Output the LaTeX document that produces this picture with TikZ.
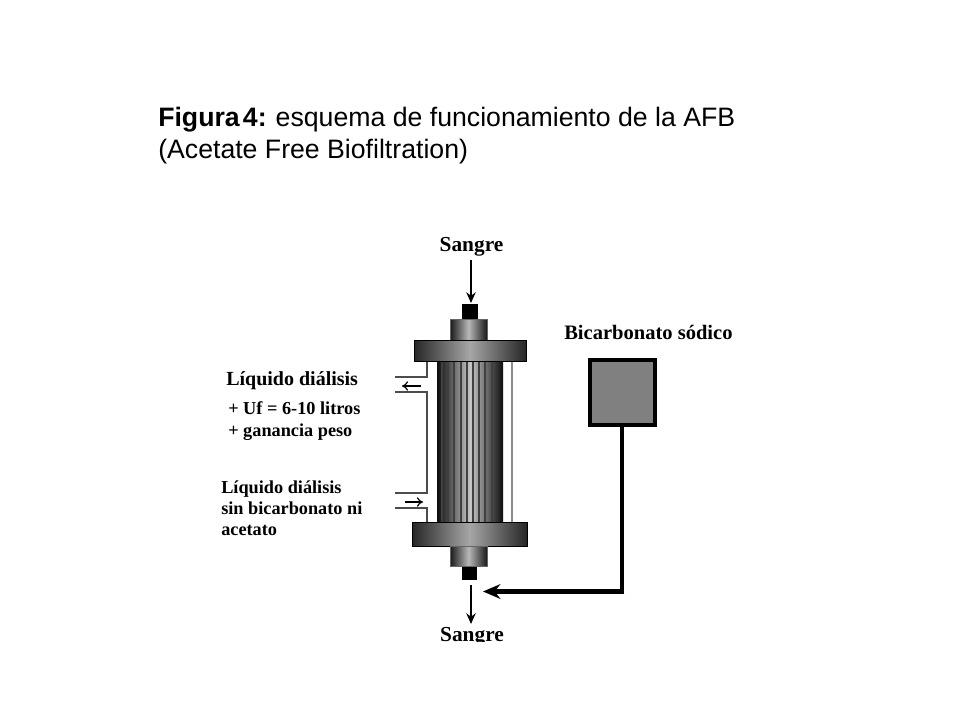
\documentclass[tikz,border=0pt]{standalone}
\usepackage{fontspec}
\setmainfont{Liberation Serif}
\newfontfamily\titlefont{Liberation Sans}
\usetikzlibrary{arrows.meta}
\tikzset{
  x=0.75pt,y=-0.75pt,
  titletext/.style={font=\titlefont\fontsize{20}{20}\selectfont,anchor=west,inner sep=0,text=black},
  sangretext/.style={font=\fontsize{16}{16}\selectfont\bfseries,inner sep=0},
  bictext/.style={font=\fontsize{15.4}{15.4}\selectfont\bfseries,inner sep=0,anchor=west},
  label/.style={font=\fontsize{15}{15}\selectfont\bfseries,inner sep=0,anchor=west},
  labelb/.style={font=\fontsize{13.7}{13.7}\selectfont\bfseries,inner sep=0,anchor=west},
  flange/.style={left color=black!85,right color=black!85,middle color=black!35,draw=black,line width=0.7pt},
  neck/.style={left color=black!90,right color=black!90,middle color=black!28,draw=black!60,line width=0.4pt},
  plug/.style={fill=black,draw=none},
  shell/.style={draw=black!70,line width=1pt},
  shellr/.style={draw=black!45,line width=1.5pt},
  flow/.style={-{Stealth[length=8pt,width=7pt]},line width=1.5pt},
  small/.style={-{To[length=4.5pt,width=7pt]},line width=0.9pt},
  feed/.style={line width=3.4pt},
  feedtip/.style={-{Stealth[length=13pt,width=11pt]},line width=3.4pt}
}
\begin{document}
\begin{tikzpicture}
\path[use as bounding box,fill=white] (0,0) rectangle (960,720);
% title
\node[titletext] (t1) at (158,119.5) {\textbf{Figura\hspace{0.12em}4:}\hspace{-0.03em} esquema de funcionamiento de la AFB};
\node[titletext] (t2) at (158,152) {(Acetate Free Biofiltration)};
% fibre bundle
\path[left color=black!95,right color=black!95,middle color=black!22] (437,361) rectangle (503,522);
\foreach \xx in {441,447,453,460,466,472,478,484,491}
  \fill[black!75] (\xx,361) rectangle ++(1.6,161);
% shell
\coordinate (p1) at (395,377); \coordinate (p2) at (395,392);
\coordinate (p3) at (395,493); \coordinate (p4) at (395,508);
\draw[shell] (p1) -- (427,377) -- (427,361);
\draw[shell] (p2) -- (427,392) -- (427,493) -- (p3);
\draw[shell] (p4) -- (427,508) -- (427,522);
\draw[shellr] (512,361) -- (512,522);
% top header
\node[plug,minimum width=12pt,minimum height=11pt,inner sep=0] (plugt) at (470,311.5) {};
\path[neck] (450,319) rectangle (487,340);
\path[flange] (414,340) rectangle (526,361);
\coordinate (st) at (471,260);
\coordinate (pt) at (471,303);
% bottom header
\path[flange] (412,522) rectangle (527,546);
\path[neck] (450,546) rectangle (487,566);
\node[plug,minimum width=11.5pt,minimum height=10pt,inner sep=0] (plugb) at (469.5,573.5) {};
% small arrows
\coordinate (a1) at (421,386); \coordinate (a2) at (402,386);
\coordinate (a3) at (405,502); \coordinate (a4) at (423,502);
\draw[small] (a1) -- (a2);
\draw[small] (a3) -- (a4);
% texts
\node[sangretext] (s1) at (471.5,247) {Sangre};
\draw[flow] (st) -- (pt);
\begin{scope}
\clip (430,620) rectangle (510,641);
\node[sangretext] (s2) at (472,637) {Sangre};
\end{scope}
\coordinate (bs) at (471,585);
\coordinate (be) at (471,624);
\draw[flow] (bs) -- (be);
\node[bictext] (bic) at (564,332.5) {Bicarbonato sódico};
\node[draw=black,line width=3.4pt,fill=black!50,minimum width=49pt,minimum height=49pt,inner sep=0] (box) at (622.5,392.5) {};
\coordinate (corner) at (622,591.5);
\coordinate (tipb) at (483,591.5);
\draw[feed] (box.south -| corner) -- (corner);
\draw[feedtip] (corner) ++(1.7pt,0) -- (tipb);
\node[label] (l1) at (226,381) {Líquido diálisis};
\node[labelb] (l2) at (228,408) {+ Uf = 6-10 litros};
\node[labelb] (l3) at (228,432) {+ ganancia peso};
\node[labelb] (l4) at (221,489) {Líquido diálisis};
\node[labelb] (l5) at (221,508) {sin bicarbonato ni};
\node[labelb] (l6) at (221,530) {acetato};
\end{tikzpicture}
\end{document}
